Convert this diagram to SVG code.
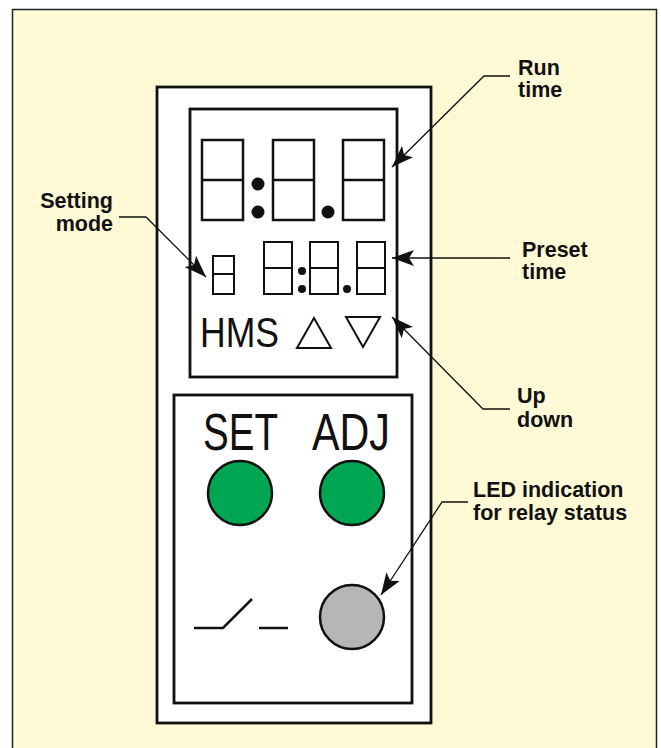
<svg xmlns="http://www.w3.org/2000/svg" width="661" height="748" viewBox="0 0 661 748">
<defs>
<style>
.lbl{font-family:"Liberation Sans",Arial,sans-serif;font-weight:bold;font-size:21.5px;fill:#111}
.cond{font-family:"Liberation Sans",Arial,sans-serif;fill:#111}
.seg{fill:none;stroke:#111;stroke-width:2.5}
.segs{fill:none;stroke:#111;stroke-width:2}
.box{fill:#fff;stroke:#111;stroke-width:2.8}
.lead{fill:none;stroke:#111;stroke-width:1.3}
.dot{fill:#111}
</style>
<marker id="ah" viewBox="0 0 22 16" refX="22" refY="8" markerWidth="22" markerHeight="16" markerUnits="userSpaceOnUse" orient="auto">
<path d="M22,8 L0,0 L5,8 L0,16 Z" fill="#111"/>
</marker>
</defs>
<rect x="0" y="0" width="661" height="748" fill="#fff"/>
<rect x="12.5" y="9.5" width="644" height="745" fill="#FFF9D5" stroke="#222" stroke-width="1.5"/>
<g id="panel">
<rect class="box" x="157" y="87" width="274" height="636"/>
</g>
<g id="display">
<rect class="box" x="190" y="109" width="207" height="268"/>
<g id="run-digits">
<rect class="seg" x="202" y="140" width="41" height="80"/><line class="seg" x1="202" y1="180" x2="243" y2="180"/>
<rect class="seg" x="273" y="140" width="41" height="80"/><line class="seg" x1="273" y1="180" x2="314" y2="180"/>
<rect class="seg" x="343" y="140" width="41" height="80"/><line class="seg" x1="343" y1="180" x2="384" y2="180"/>
<circle class="dot" cx="258" cy="184" r="6.5"/><circle class="dot" cx="258" cy="212" r="6.5"/>
<circle class="dot" cx="328" cy="212" r="6.5"/>
</g>
<g id="mode-digit">
<rect class="segs" x="213" y="256" width="21" height="38"/><line class="segs" x1="213" y1="274" x2="234" y2="274"/>
</g>
<g id="preset-digits">
<rect class="segs" x="264" y="242" width="28" height="52"/><line class="segs" x1="264" y1="268" x2="292" y2="268"/>
<rect class="segs" x="310" y="242" width="28" height="52"/><line class="segs" x1="310" y1="268" x2="338" y2="268"/>
<rect class="segs" x="357" y="242" width="28" height="52"/><line class="segs" x1="357" y1="268" x2="385" y2="268"/>
<circle class="dot" cx="302" cy="271" r="4"/><circle class="dot" cx="302" cy="289" r="4"/>
<circle class="dot" cx="347" cy="289" r="4"/>
</g>
<text class="cond" x="200" y="347" font-size="42" textLength="79" lengthAdjust="spacingAndGlyphs">HMS</text>
<path class="segs" d="M314,318 L297,348 L331,348 Z"/>
<path class="segs" d="M346,317 L380,317 L363,347 Z"/>
</g>
<g id="buttons">
<rect class="box" x="174" y="395" width="238" height="308"/>
<text class="cond" x="203" y="450" font-size="52" textLength="75" lengthAdjust="spacingAndGlyphs">SET</text>
<text class="cond" x="312" y="450" font-size="52" textLength="78" lengthAdjust="spacingAndGlyphs">ADJ</text>
<circle cx="240" cy="493" r="32" fill="#00A651" stroke="#111" stroke-width="2.5"/>
<circle cx="352" cy="493" r="32" fill="#00A651" stroke="#111" stroke-width="2.5"/>
<circle cx="352" cy="617" r="32" fill="#B5B6B8" stroke="#111" stroke-width="2.5"/>
<path d="M194,628 L223,628 L252,599" fill="none" stroke="#111" stroke-width="2.5"/>
<line x1="259" y1="628" x2="288" y2="628" stroke="#111" stroke-width="2.5"/>
</g>
<g id="connectors">
<path class="lead" d="M510,76 L484,76 L392,167" marker-end="url(#ah)"/>
<path class="lead" d="M510,258 L392,258" marker-end="url(#ah)"/>
<path class="lead" d="M510,409 L483,409 L392,317" marker-end="url(#ah)"/>
<path class="lead" d="M468,502 L442,502 L381,595" marker-end="url(#ah)"/>
<path class="lead" d="M119,217 L146,217 L206,277" marker-end="url(#ah)"/>
</g>
<g id="labels">
<text class="lbl" x="518" y="75">Run</text>
<text class="lbl" x="518" y="97">time</text>
<text class="lbl" x="113" y="208" text-anchor="end">Setting</text>
<text class="lbl" x="113" y="231" text-anchor="end">mode</text>
<text class="lbl" x="522" y="257">Preset</text>
<text class="lbl" x="522" y="279">time</text>
<text class="lbl" x="517" y="403">Up</text>
<text class="lbl" x="517" y="427">down</text>
<text class="lbl" x="473" y="497">LED indication</text>
<text class="lbl" x="473" y="520">for relay status</text>
</g>
</svg>
